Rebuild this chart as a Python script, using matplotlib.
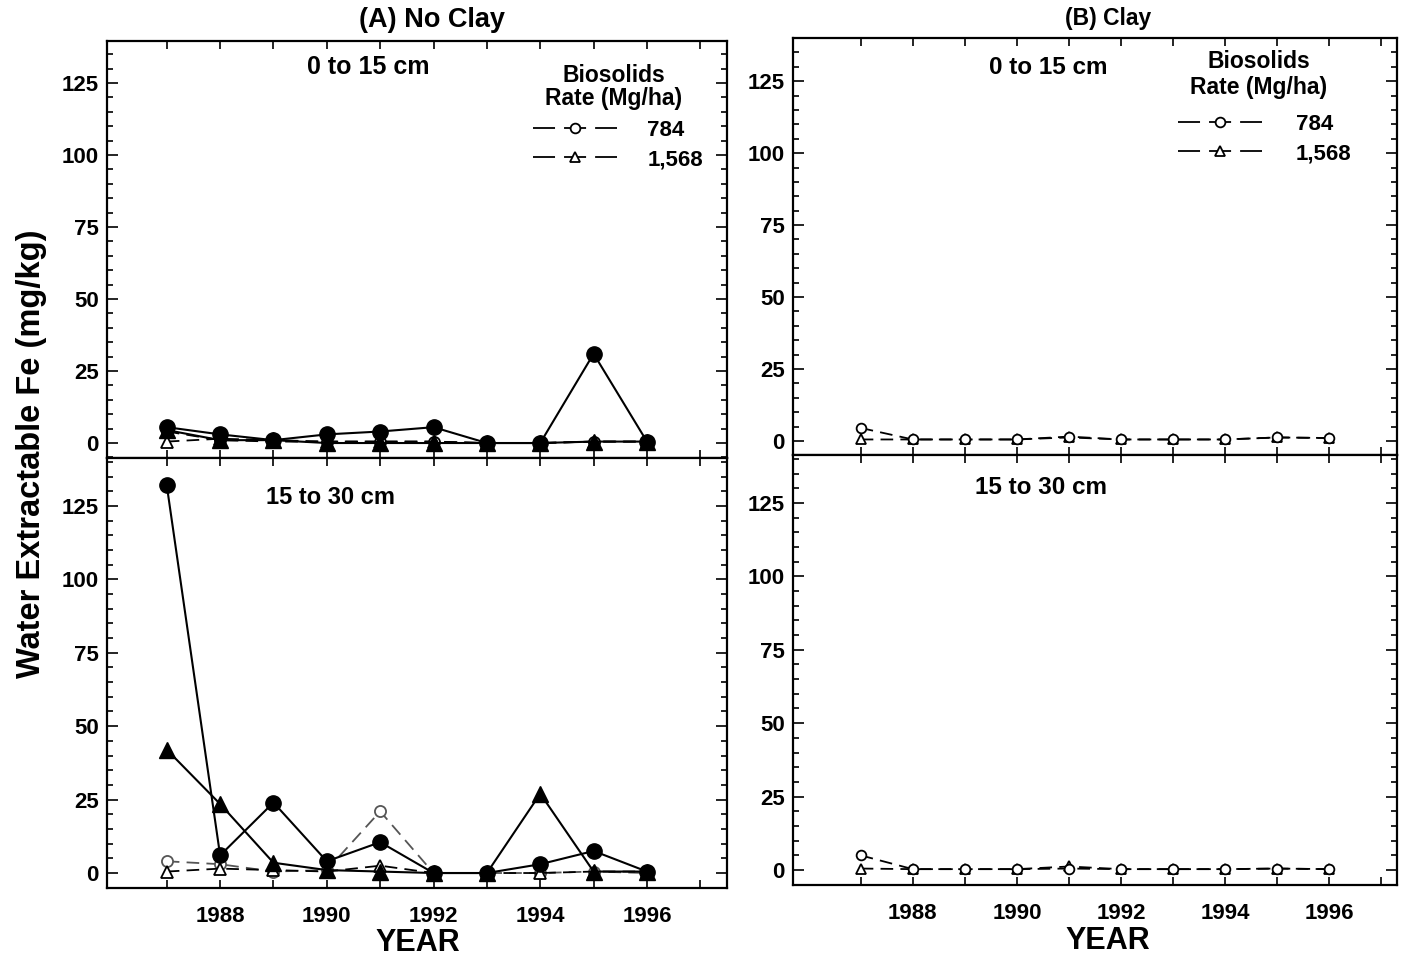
import matplotlib
matplotlib.use("Agg")
import matplotlib.pyplot as plt
from matplotlib.lines import Line2D
from matplotlib.ticker import MultipleLocator

plt.rcParams["font.family"] = ["Liberation Sans", "DejaVu Sans"]
plt.rcParams["font.weight"] = "bold"

years = [1987, 1988, 1989, 1990, 1991, 1992, 1993, 1994, 1995, 1996]

# (A) No Clay, 0 to 15 cm
a_top_filled_circle = [5.5, 3, 1, 3, 4, 5.5, 0, 0, 31, 0.5]
a_top_filled_tri = [4.5, 1, 1, 0, 0, 0, 0, 0, 0.5, 0.5]
a_top_784 = [4, 1, 0.5, 0.5, 0.5, 0.5, 0, 0, 0.5, 0.5]
a_top_1568 = [0.5, 1.5, 1, 0.5, 0.5, 0.5, 0, 0, 0.5, 0.5]

# (A) No Clay, 15 to 30 cm
a_bot_filled_circle = [132, 6, 24, 4, 10.5, 0, 0, 3, 7.5, 0.5]
a_bot_filled_tri = [42, 23.5, 3.5, 1, 0.5, 0, 0, 27, 0.5, 0.5]
a_bot_784 = [4, 3, 0.5, 1, 21, 0, 0, 0, 0.5, 0]
a_bot_1568 = [0.5, 1.5, 1, 0.5, 2.5, 0, 0, 0, 0.5, 0.5]

# (B) Clay, 0 to 15 cm
b_top_784 = [4.5, 0.5, 0.5, 0.5, 1.5, 0.5, 0.5, 0.5, 1.2, 1.0]
b_top_1568 = [0.5, 0.5, 0.5, 0.5, 1.2, 0.5, 0.5, 0.5, 1.2, 1.0]

# (B) Clay, 15 to 30 cm
b_bot_784 = [5, 0.3, 0.3, 0.3, 0.5, 0.3, 0.3, 0.3, 0.5, 0.3]
b_bot_1568 = [0.5, 0.3, 0.3, 0.3, 1.2, 0.3, 0.3, 0.3, 0.5, 0.3]

rate_labels = ["784", "1,568"]
year_ticks = [1988, 1990, 1992, 1994, 1996]
y_ticks = [0, 25, 50, 75, 100, 125]

W, H = 1404, 959
fig = plt.figure(figsize=(W / 100, H / 100), dpi=100)


def frac(x0, y0, x1, y1):
    return [x0 / W, 1 - y1 / H, (x1 - x0) / W, (y1 - y0) / H]


def fx(px):
    return px / W


def fy(py):
    return 1 - py / H


ax_a_top = fig.add_axes(frac(107, 41, 727, 458))
ax_a_bot = fig.add_axes(frac(107, 458, 727, 888))
ax_b_top = fig.add_axes(frac(793, 38, 1397, 455))
ax_b_bot = fig.add_axes(frac(793, 455, 1397, 885))

DASH = (0, (7, 4))
LEGEND_DASH = (0, (12.2, 5.0))


def style(ax, xlim, ylim, show_xlabels):
    ax.set_xlim(*xlim)
    ax.set_ylim(*ylim)
    ax.set_xticks(range(1987, 1998))
    ax.set_xticklabels([str(y) if y in year_ticks else "" for y in range(1987, 1998)])
    ax.set_yticks(y_ticks)
    ax.yaxis.set_minor_locator(MultipleLocator(5))
    ax.tick_params(axis="both", which="both", direction="in", width=1.2,
                   labelsize=16, top=True, right=True)
    ax.tick_params(axis="y", which="major", length=8, pad=6)
    ax.tick_params(axis="y", which="minor", length=4)
    ax.tick_params(axis="x", which="major", length=6, pad=13)
    if not show_xlabels:
        ax.tick_params(axis="x", labelbottom=False)
    for lab in ax.get_xticklabels() + ax.get_yticklabels():
        lab.set_fontweight("bold")
    for sp in ax.spines.values():
        sp.set_linewidth(1.6)


def filled(ax, vals, marker, ms=11):
    ax.plot(years, vals, color="black", lw=1.5, marker=marker, ms=ms,
            mfc="black", mec="black", zorder=3, clip_on=False)


def opened(ax, vals, marker, ms=8, color="black"):
    ax.plot(years, vals, color=color, lw=1.3, ls=DASH, marker=marker, ms=ms,
            mfc="white", mec=color, mew=1.3, zorder=2, clip_on=False)


# (A) No Clay
opened(ax_a_top, a_top_784, "o")
opened(ax_a_top, a_top_1568, "^")
filled(ax_a_top, a_top_filled_tri, "^")
filled(ax_a_top, a_top_filled_circle, "o")

opened(ax_a_bot, a_bot_784, "o", color="#555555")
opened(ax_a_bot, a_bot_1568, "^")
filled(ax_a_bot, a_bot_filled_tri, "^")
filled(ax_a_bot, a_bot_filled_circle, "o")

# (B) Clay
opened(ax_b_top, b_top_1568, "^", ms=7)
opened(ax_b_top, b_top_784, "o", ms=7)
opened(ax_b_bot, b_bot_1568, "^", ms=7)
opened(ax_b_bot, b_bot_784, "o", ms=7)

style(ax_a_top, (1985.88, 1997.5), (-5.2, 139.6), False)
style(ax_a_bot, (1985.88, 1997.5), (-5.1, 141.3), True)
style(ax_b_top, (1985.7, 1997.3), (-4.9, 140.0), False)
style(ax_b_bot, (1985.7, 1997.3), (-5.1, 141.3), True)

# Depth labels
txt = dict(fontweight="bold", ha="center", va="center")
fig.text(fx(368), fy(67), "0 to 15 cm", fontsize=18, **txt)
fig.text(fx(330), fy(497), "15 to 30 cm", fontsize=17, **txt)
fig.text(fx(1048), fy(68), "0 to 15 cm", fontsize=17.5, **txt)
fig.text(fx(1041), fy(487), "15 to 30 cm", fontsize=17.5, **txt)

# Legends: rate entries plus a two-line centred heading
handles = [
    Line2D([], [], color="black", lw=1.3, ls=LEGEND_DASH, marker="o", ms=7,
           mfc="white", mew=1.3),
    Line2D([], [], color="black", lw=1.3, ls=LEGEND_DASH, marker="^", ms=7,
           mfc="white", mew=1.3),
]
for ax, anchor, pad, head_xy, head_ls in (
        (ax_a_top, (533, 145), 1.35, (614, 87), 1.05),
        (ax_b_top, (1178, 139), 1.5, (1259, 74.5), 1.12)):
    ax.legend(handles, rate_labels, loc="center left",
              bbox_to_anchor=(fx(anchor[0]), fy(anchor[1])),
              bbox_transform=fig.transFigure, frameon=False,
              numpoints=1, handlelength=3.8, handletextpad=pad,
              labelspacing=0.38, borderpad=0, borderaxespad=0,
              prop={"weight": "bold", "size": 16})
    fig.text(fx(head_xy[0]), fy(head_xy[1]), "Biosolids\nRate (Mg/ha)",
             fontsize=16.5, fontweight="bold", ha="center", va="center",
             multialignment="center", linespacing=head_ls)

# Titles and axis labels
fig.text(fx(432), fy(20), "(A) No Clay", fontsize=19.5, fontweight="bold",
         ha="center", va="center")
fig.text(fx(1108), fy(19), "(B) Clay", fontsize=16.5, fontweight="bold",
         ha="center", va="center")
fig.text(fx(418), fy(943), "YEAR", fontsize=22, fontweight="bold",
         ha="center", va="center")
fig.text(fx(1108), fy(941), "YEAR", fontsize=22, fontweight="bold",
         ha="center", va="center")
fig.text(fx(32), fy(454), "Water Extractable Fe (mg/kg)", fontsize=23.5,
         fontweight="bold", ha="center", va="center", rotation=90)

fig.savefig("out.png", dpi=100)
